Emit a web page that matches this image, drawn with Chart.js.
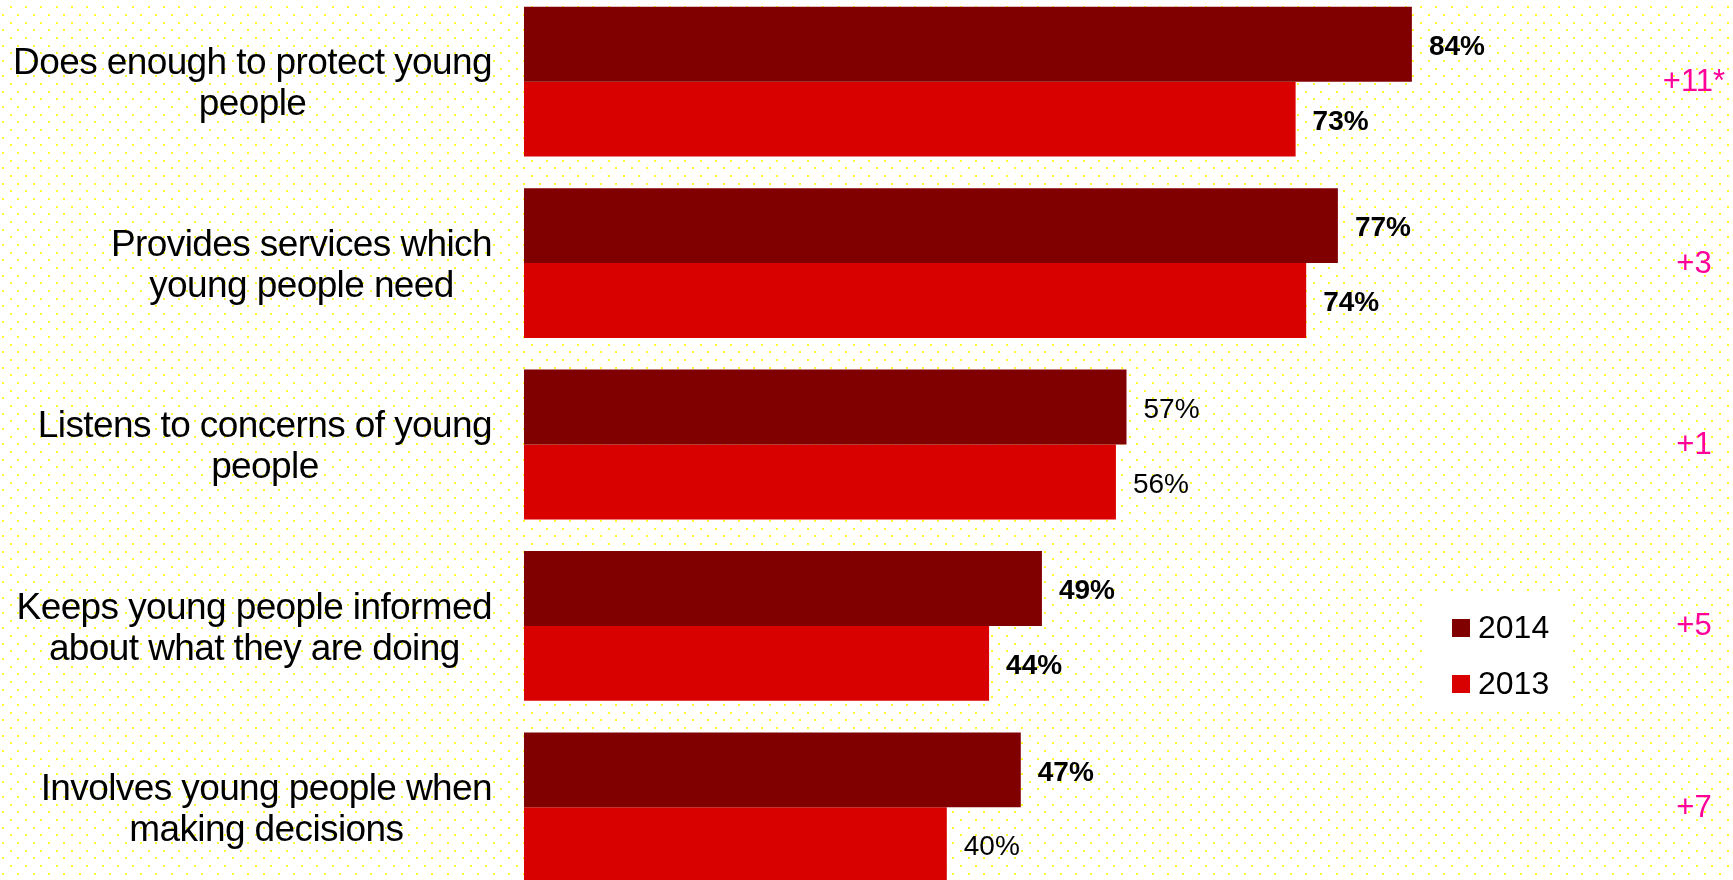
<!DOCTYPE html>
<html>
<head>
<meta charset="utf-8">
<script src="https://cdn.jsdelivr.net/npm/chart.js@4.4.1/dist/chart.umd.min.js"></script>
<style>
    html, body { margin: 0; padding: 0; width: 1733px; height: 880px; overflow: hidden; background: #fff; }
    #wrap { position: absolute; left: 0; top: -9px; width: 1733px; height: 907px; }
</style>
</head>
<body>
<div id="wrap"><canvas id="chart" width="1733" height="907"></canvas></div>
<script>
const categories = [
    ['Does enough to protect young', 'people'],
    ['Provides services which', 'young people need'],
    ['Listens to concerns of young', 'people'],
    ['Keeps young people informed', 'about what they are doing'],
    ['Involves young people when', 'making decisions']
];
const seriesNames = ['2014', '2013'];
const values2014 = [84, 77, 57, 49, 47];
const values2013 = [73, 74, 56, 44, 40];
const changes = ['+11*', '+3', '+1', '+5', '+7'];

const FONT = '"Liberation Sans", Arial, sans-serif';
const OFFSET_Y = 9; // canvas sits 9px above the page top

// which value labels look bold in the original
const boldLabels = [
    [true, true, false, true, true],
    [true, true, false, true, false]
];

/* dotted background */
const dottedBg = {
    id: 'dottedBg',
    beforeDraw(chart) {
        const ctx = chart.ctx;
        ctx.save();
        ctx.fillStyle = '#ffff33';
        const step = 15.33, row = 7.667;
        let r = 0;
        for (let y = 7.3; y < 900; y += row, r++) {
            const x0 = (r % 2 === 0) ? 10.7 : 3.0;
            for (let x = x0; x < 1740; x += step) {
                ctx.fillRect(Math.round(x) - 1, Math.round(y + OFFSET_Y) - 1, 2, 2);
            }
        }
        ctx.restore();
    }
};

/* category labels, value labels, change labels, legend */
const extras = {
    id: 'extras',
    afterDatasetsDraw(chart) {
        const ctx = chart.ctx;
        const yScale = chart.scales.y;
        ctx.save();

        // category labels: block right-aligned, lines centered inside it
        ctx.fillStyle = '#000';
        ctx.font = '37px ' + FONT;
        ctx.letterSpacing = '-0.6px';
        ctx.textBaseline = 'middle';
        ctx.textAlign = 'center';
        const lineH = 41;
        categories.forEach((lines, i) => {
            const cy = yScale.getPixelForValue(i);
            const w = Math.max(...lines.map(l => ctx.measureText(l).width));
            const cx = 492 - w / 2;
            const top = cy - (lines.length - 1) * lineH / 2 + 3;
            lines.forEach((l, j) => ctx.fillText(l, cx, top + j * lineH));
        });
        ctx.letterSpacing = '0px';

        // value labels
        ctx.textAlign = 'left';
        chart.data.datasets.forEach((ds, di) => {
            const meta = chart.getDatasetMeta(di);
            meta.data.forEach((bar, i) => {
                ctx.font = (boldLabels[di][i] ? 'bold ' : '') + '28px ' + FONT;
                ctx.fillText(ds.data[i] + '%', bar.x + 17, bar.y + 3);
            });
        });

        // change column
        ctx.fillStyle = '#ff0099';
        ctx.font = '31px ' + FONT;
        ctx.textAlign = 'center';
        changes.forEach((c, i) => {
            ctx.fillText(c, 1694, yScale.getPixelForValue(i) + 1);
        });

        // legend
        ctx.fillStyle = '#ffffff';
        ctx.fillRect(1424, 595 + OFFSET_Y, 148, 115);
        ctx.font = '32px ' + FONT;
        ctx.textAlign = 'left';
        chart.data.datasets.forEach((ds, di) => {
            const cy = 628 + di * 56 + OFFSET_Y;
            ctx.fillStyle = ds.backgroundColor;
            ctx.fillRect(1452, cy - 9, 18, 18);
            ctx.fillStyle = '#000';
            ctx.fillText(ds.label, 1478, cy + 1);
        });

        ctx.restore();
    }
};

new Chart(document.getElementById('chart'), {
    type: 'bar',
    data: {
        labels: categories,
        datasets: [
            { label: seriesNames[0], data: values2014, backgroundColor: '#800000' },
            { label: seriesNames[1], data: values2013, backgroundColor: '#d90000' }
        ]
    },
    options: {
        indexAxis: 'y',
        responsive: false,
        animation: false,
        categoryPercentage: 0.826,
        barPercentage: 1.0,
        layout: { padding: { left: 524, right: 152, top: 0, bottom: 0 } },
        scales: {
            x: { min: 0, max: 100, display: false },
            y: { display: false }
        },
        plugins: {
            legend: { display: false },
            tooltip: { enabled: false }
        }
    },
    plugins: [dottedBg, extras]
});
</script>
</body>
</html>
